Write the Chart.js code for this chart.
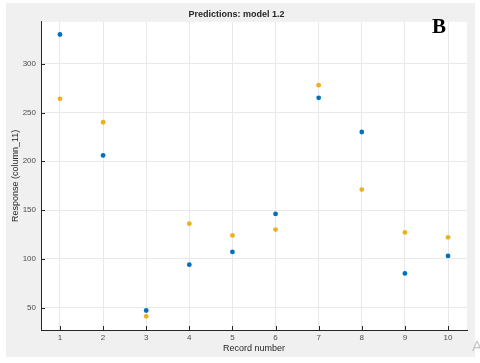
<!DOCTYPE html>
<html>
<head>
<meta charset="utf-8">
<script src="https://cdn.jsdelivr.net/npm/chart.js@4"></script>
<style>
  html, body { margin: 0; padding: 0; background: #fff; }
  #wrap { width: 480px; height: 363px; }
</style>
</head>
<body>
<div id="wrap"><canvas id="predChart"></canvas></div>
<script>
// record numbers and the two series
const records = [1, 2, 3, 4, 5, 6, 7, 8, 9, 10];
const trueResponse = [330, 206, 47, 94, 107, 146, 265, 230, 85, 103];
const predicted = [264, 240, 41, 136, 124, 130, 278, 171, 127, 122];
const xTicks = [1, 2, 3, 4, 5, 6, 7, 8, 9, 10];
const yTicks = [50, 100, 150, 200, 250, 300];

const toPoints = (vals) => vals.map((v, i) => ({ x: records[i], y: v }));

// gray figure panel, white axes box, inward ticks and the panel letters
const panel = {
  id: "panel",
  beforeDraw(chart) {
    const { ctx, chartArea: a } = chart;
    ctx.save();
    ctx.fillStyle = "#fff";
    ctx.fillRect(0, 0, chart.width, chart.height);
    ctx.fillStyle = "#f0f0f0";
    ctx.fillRect(6, 3, 469, 354);
    ctx.fillStyle = "#fff";
    ctx.fillRect(a.left, a.top, a.right - a.left, a.bottom - a.top);
    ctx.restore();
  },
  afterDraw(chart) {
    const { ctx, chartArea: a, scales } = chart;
    ctx.save();
    ctx.strokeStyle = "#262626";
    ctx.lineWidth = 1;
    ctx.beginPath();
    xTicks.forEach((v) => {
      const x = Math.round(scales.x.getPixelForValue(v)) + 0.5;
      ctx.moveTo(x, a.bottom);
      ctx.lineTo(x, a.bottom - 4);
    });
    yTicks.forEach((v) => {
      const y = Math.round(scales.y.getPixelForValue(v)) + 0.5;
      ctx.moveTo(a.left, y);
      ctx.lineTo(a.left + 4, y);
    });
    ctx.stroke();
    ctx.fillStyle = "#000";
    ctx.font = "bold 21px 'Liberation Serif'";
    ctx.fillText("B", 432, 33);
    ctx.fillStyle = "#c4c4c4";
    ctx.font = "15px 'Liberation Sans'";
    ctx.fillText("A", 472, 351);
    ctx.restore();
  },
};

new Chart(document.getElementById("predChart"), {
  type: "scatter",
  data: {
    datasets: [
      {
        label: "True",
        data: toPoints(trueResponse),
        backgroundColor: "#0072BD",
        borderWidth: 0,
        pointRadius: 2.4,
      },
      {
        label: "Predicted",
        data: toPoints(predicted),
        backgroundColor: "#EDB120",
        borderWidth: 0,
        pointRadius: 2.4,
      },
    ],
  },
  options: {
    responsive: true,
    maintainAspectRatio: false,
    animation: false,
    layout: { padding: { left: 6, right: 13, top: 0, bottom: 6 } },
    plugins: {
      legend: { display: false },
      tooltip: { enabled: false },
      title: {
        display: true,
        text: "Predictions: model 1.2",
        color: "#262626",
        font: { family: "'Liberation Sans'", size: 9, weight: "bold" },
        padding: { top: 9, bottom: 2 },
      },
    },
    scales: {
      x: {
        type: "linear",
        min: 0.56,
        max: 10.44,
        afterBuildTicks: (scale) => {
          scale.ticks = xTicks.map((v) => ({ value: v }));
        },
        afterFit: (scale) => {
          scale.height = 27;
        },
        grid: { color: "#e9e9e9", drawTicks: false },
        border: { display: true, color: "#262626" },
        ticks: {
          padding: 3,
          color: "#4d4d4d",
          font: { family: "'Liberation Sans'", size: 8 },
        },
        title: {
          display: true,
          text: "Record number",
          color: "#262626",
          font: { family: "'Liberation Sans'", size: 9 },
          padding: { top: 0, bottom: 3 },
        },
      },
      y: {
        min: 27,
        max: 343,
        afterBuildTicks: (scale) => {
          scale.ticks = yTicks.map((v) => ({ value: v }));
        },
        afterFit: (scale) => {
          scale.width = 35;
        },
        grid: { color: "#e9e9e9", drawTicks: false },
        border: { display: true, color: "#262626" },
        ticks: {
          padding: 5,
          color: "#4d4d4d",
          font: { family: "'Liberation Sans'", size: 8 },
        },
        title: {
          display: true,
          text: "Response (column_11)",
          color: "#262626",
          font: { family: "'Liberation Sans'", size: 9 },
          padding: { top: 4, bottom: 0 },
        },
      },
    },
  },
  plugins: [panel],
});
</script>
</body>
</html>
